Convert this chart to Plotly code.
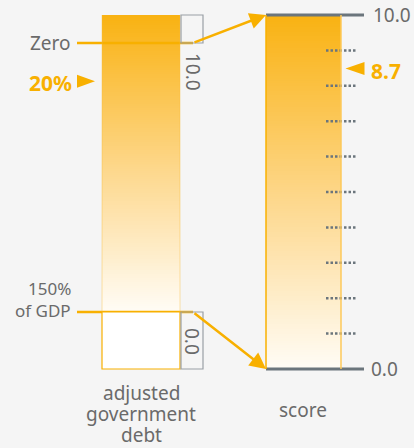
import numpy as np
import plotly.graph_objects as go

# ---------------- data ----------------
categories = ["adjusted<br>government<br>debt", "score"]
debt_anchor_values = [0, 150]                 # % of GDP
debt_anchor_labels = ["Zero", "150%<br>of GDP"]
debt_value = 20                               # % of GDP
debt_value_label = "20%"
score_min, score_max = 0.0, 10.0
score_ticks = [1, 2, 3, 4, 5, 6, 7, 8, 9]
score_end_labels = ["0.0", "10.0"]
score_value = 8.7
score_value_label = "8.7"

# ---------------- layout geometry (pixels) ----------------
W, H = 414, 448
PX_TOP, PX_BOT = 15, 369          # score 10 / score 0
PX_D0, PX_D150 = 43, 312          # debt 0 / debt 150
ppu_s = (PX_BOT - PX_TOP) / (score_max - score_min)
ppu_d = (PX_D150 - PX_D0) / (debt_anchor_values[1] - debt_anchor_values[0])

def debt_to_score(d):
    px = PX_D0 + (d - debt_anchor_values[0]) * ppu_d
    return score_max - (px - PX_TOP) / ppu_s

def score_to_debt(s):
    px = PX_TOP + (score_max - s) * ppu_s
    return debt_anchor_values[0] + (px - PX_D0) / ppu_d

y_range = [score_min - (H - PX_BOT) / ppu_s, score_max + PX_TOP / ppu_s]
y2_range = [score_to_debt(y_range[0]), score_to_debt(y_range[1])]

LB = (102, 180)   # left bar x
RB = (266, 341)   # right bar x
ORANGE = "rgb(248,176,0)"
TXT = "#6a6a6a"
GRAY = "#6b757c"
FONT = "Noto Sans"

cscale = [[0, "rgb(255,252,246)"], [0.5, "rgb(253,214,135)"], [1, "rgb(249,178,18)"]]
N = 150

fig = go.Figure()

# right bar gradient (score axis)
ye = np.linspace(score_min, score_max, N + 1)
yc = (ye[:-1] + ye[1:]) / 2
fig.add_trace(go.Heatmap(x=list(RB), y=ye, z=[[v / score_max] for v in yc],
                         colorscale=cscale, zmin=0, zmax=1, showscale=False,
                         hoverinfo="skip", yaxis="y"))

# left bar gradient (debt axis): from bar top down to 150%
d_top = score_to_debt(score_max)
de = np.linspace(d_top, debt_anchor_values[1], N + 1)
dc = (de[:-1] + de[1:]) / 2
fig.add_trace(go.Heatmap(x=list(LB), y=de,
                         z=[[1 - (v - d_top) / (debt_anchor_values[1] - d_top)] for v in dc],
                         colorscale=cscale, zmin=0, zmax=1, showscale=False,
                         hoverinfo="skip", yaxis="y2"))

shapes = []
# white box below 150%
shapes.append(dict(type="rect", xref="x", yref="y", x0=LB[0], x1=LB[1],
                   y0=score_min, y1=debt_to_score(debt_anchor_values[1]),
                   fillcolor="white", line=dict(color=ORANGE, width=1.2), layer="above"))
# left bar faint edges
for xx in LB:
    shapes.append(dict(type="line", xref="x", yref="y", x0=xx, x1=xx,
                       y0=debt_to_score(debt_anchor_values[1]), y1=score_max,
                       line=dict(color="rgba(250,190,60,0.35)", width=1.2)))
# brackets
shapes.append(dict(type="rect", xref="x", yref="y", x0=181, x1=203,
                   y0=debt_to_score(debt_anchor_values[0]), y1=score_max,
                   line=dict(color="#9aa0a6", width=1.2)))
shapes.append(dict(type="rect", xref="x", yref="y", x0=181, x1=203,
                   y0=score_min, y1=debt_to_score(debt_anchor_values[1]),
                   line=dict(color="#9aa0a6", width=1.2)))
# right bar borders
shapes.append(dict(type="line", xref="x", yref="y", x0=RB[0], x1=RB[0],
                   y0=score_min, y1=score_max, line=dict(color=ORANGE, width=1.5)))
shapes.append(dict(type="line", xref="x", yref="y", x0=RB[1], x1=RB[1],
                   y0=score_min, y1=score_max, line=dict(color="rgb(252,200,90)", width=1.5)))
# value pointer triangles (pixel-sized, anchored at the data values)
shapes.append(dict(type="path", xref="x", yref="y2", xsizemode="pixel", ysizemode="pixel",
                   xanchor=86, yanchor=debt_value,
                   path="M -9,-9 L 9,-2.5 L -9,4 Z",
                   fillcolor=ORANGE, line=dict(width=0), layer="above"))
shapes.append(dict(type="path", xref="x", yref="y", xsizemode="pixel", ysizemode="pixel",
                   xanchor=355, yanchor=score_value,
                   path="M 9.5,-14 L -9.5,-7.5 L 9.5,-1 Z",
                   fillcolor=ORANGE, line=dict(width=0), layer="above"))

# dotted score ticks
for t in score_ticks:
    fig.add_trace(go.Scatter(x=[326, 357], y=[t, t], mode="lines", yaxis="y",
                             line=dict(color=GRAY, width=2.5, dash="2.5px,2px"),
                             hoverinfo="skip", showlegend=False))
# solid end lines
for s in (score_min, score_max):
    fig.add_trace(go.Scatter(x=[RB[0], 364], y=[s, s], mode="lines", yaxis="y",
                             line=dict(color=GRAY, width=3),
                             hoverinfo="skip", showlegend=False))

# debt anchor lines
for d in debt_anchor_values:
    fig.add_trace(go.Scatter(x=[77, 193], y=[d, d], mode="lines", yaxis="y2",
                             line=dict(color=ORANGE, width=2.5),
                             hoverinfo="skip", showlegend=False))

ann = []
# arrows to score scale
for d, s in zip(debt_anchor_values, (score_max, score_min)):
    ann.append(dict(x=RB[0], y=s, xref="x", yref="y", ax=193, ay=debt_to_score(d),
                    axref="x", ayref="y", text="", showarrow=True, arrowhead=2,
                    arrowsize=1.3, arrowwidth=2.5, arrowcolor=ORANGE, standoff=0))
# debt anchor labels
ann.append(dict(x=73, y=debt_anchor_values[0], xref="x", yref="y2", text=debt_anchor_labels[0],
                xanchor="right", yanchor="middle", showarrow=False,
                font=dict(family=FONT, size=19, color=TXT)))
for i, line in enumerate(debt_anchor_labels[1].split("<br>")):
    ann.append(dict(x=73, y=debt_anchor_values[1], xref="x", yref="y2", text=line,
                    xanchor="right", yanchor="middle", yshift=2 + 22 * (1 - i),
                    showarrow=False, font=dict(family=FONT, size=17, color=TXT)))
# debt value label
ann.append(dict(x=74, y=debt_value, xref="x", yref="y2", text="<b>%s</b>" % debt_value_label,
                xanchor="right", yanchor="middle", yshift=-4, showarrow=False,
                font=dict(family=FONT, size=21, color=ORANGE)))
# score value label
ann.append(dict(x=369, y=score_value, xref="x", yref="y", text="<b>%s</b>" % score_value_label,
                xanchor="left", yanchor="middle", yshift=-10, showarrow=False,
                font=dict(family=FONT, size=21, color=ORANGE)))
# score end labels
for s, lab, xx in zip((score_min, score_max), score_end_labels, (369, 371)):
    ann.append(dict(x=xx, y=s, xref="x", yref="y", text=lab, xanchor="left",
                    yanchor="middle", showarrow=False,
                    font=dict(family=FONT, size=19, color=TXT)))
# rotated bracket labels
ann.append(dict(x=193, y=debt_anchor_values[0], xref="x", yref="y2", text=score_end_labels[1],
                textangle=90, xanchor="center", yanchor="middle", yshift=-29, showarrow=False,
                font=dict(family=FONT, size=19, color=TXT)))
ann.append(dict(x=192, y=score_min, xref="x", yref="y", text=score_end_labels[0],
                textangle=90, xanchor="center", yanchor="middle", yshift=28, showarrow=False,
                font=dict(family=FONT, size=19, color=TXT)))
# category labels
for i, line in enumerate(categories[0].split("<br>")):
    ann.append(dict(x=sum(LB) / 2, y=score_min, xref="x", yref="y", text=line,
                    xanchor="center", yanchor="middle", yshift=-(24 + 21 * i), showarrow=False,
                    font=dict(family=FONT, size=19, color=TXT)))
ann.append(dict(x=303, y=score_min, xref="x", yref="y", text=categories[1],
                xanchor="center", yanchor="middle", yshift=-41, showarrow=False,
                font=dict(family=FONT, size=19, color=TXT)))

fig.update_layout(
    width=W, height=H, margin=dict(l=0, r=0, t=0, b=0),
    paper_bgcolor="#f5f5f5", plot_bgcolor="#f5f5f5",
    showlegend=False, shapes=shapes, annotations=ann,
    xaxis=dict(range=[0, W], visible=False, fixedrange=True),
    yaxis=dict(range=y_range, visible=False, fixedrange=True),
    yaxis2=dict(range=y2_range, visible=False, fixedrange=True, overlaying="y"),
)

fig.write_html("out.html", config={"displayModeBar": False},
               post_script="document.body.style.margin='0px';"
                           "document.body.style.background='#f5f5f5';")
